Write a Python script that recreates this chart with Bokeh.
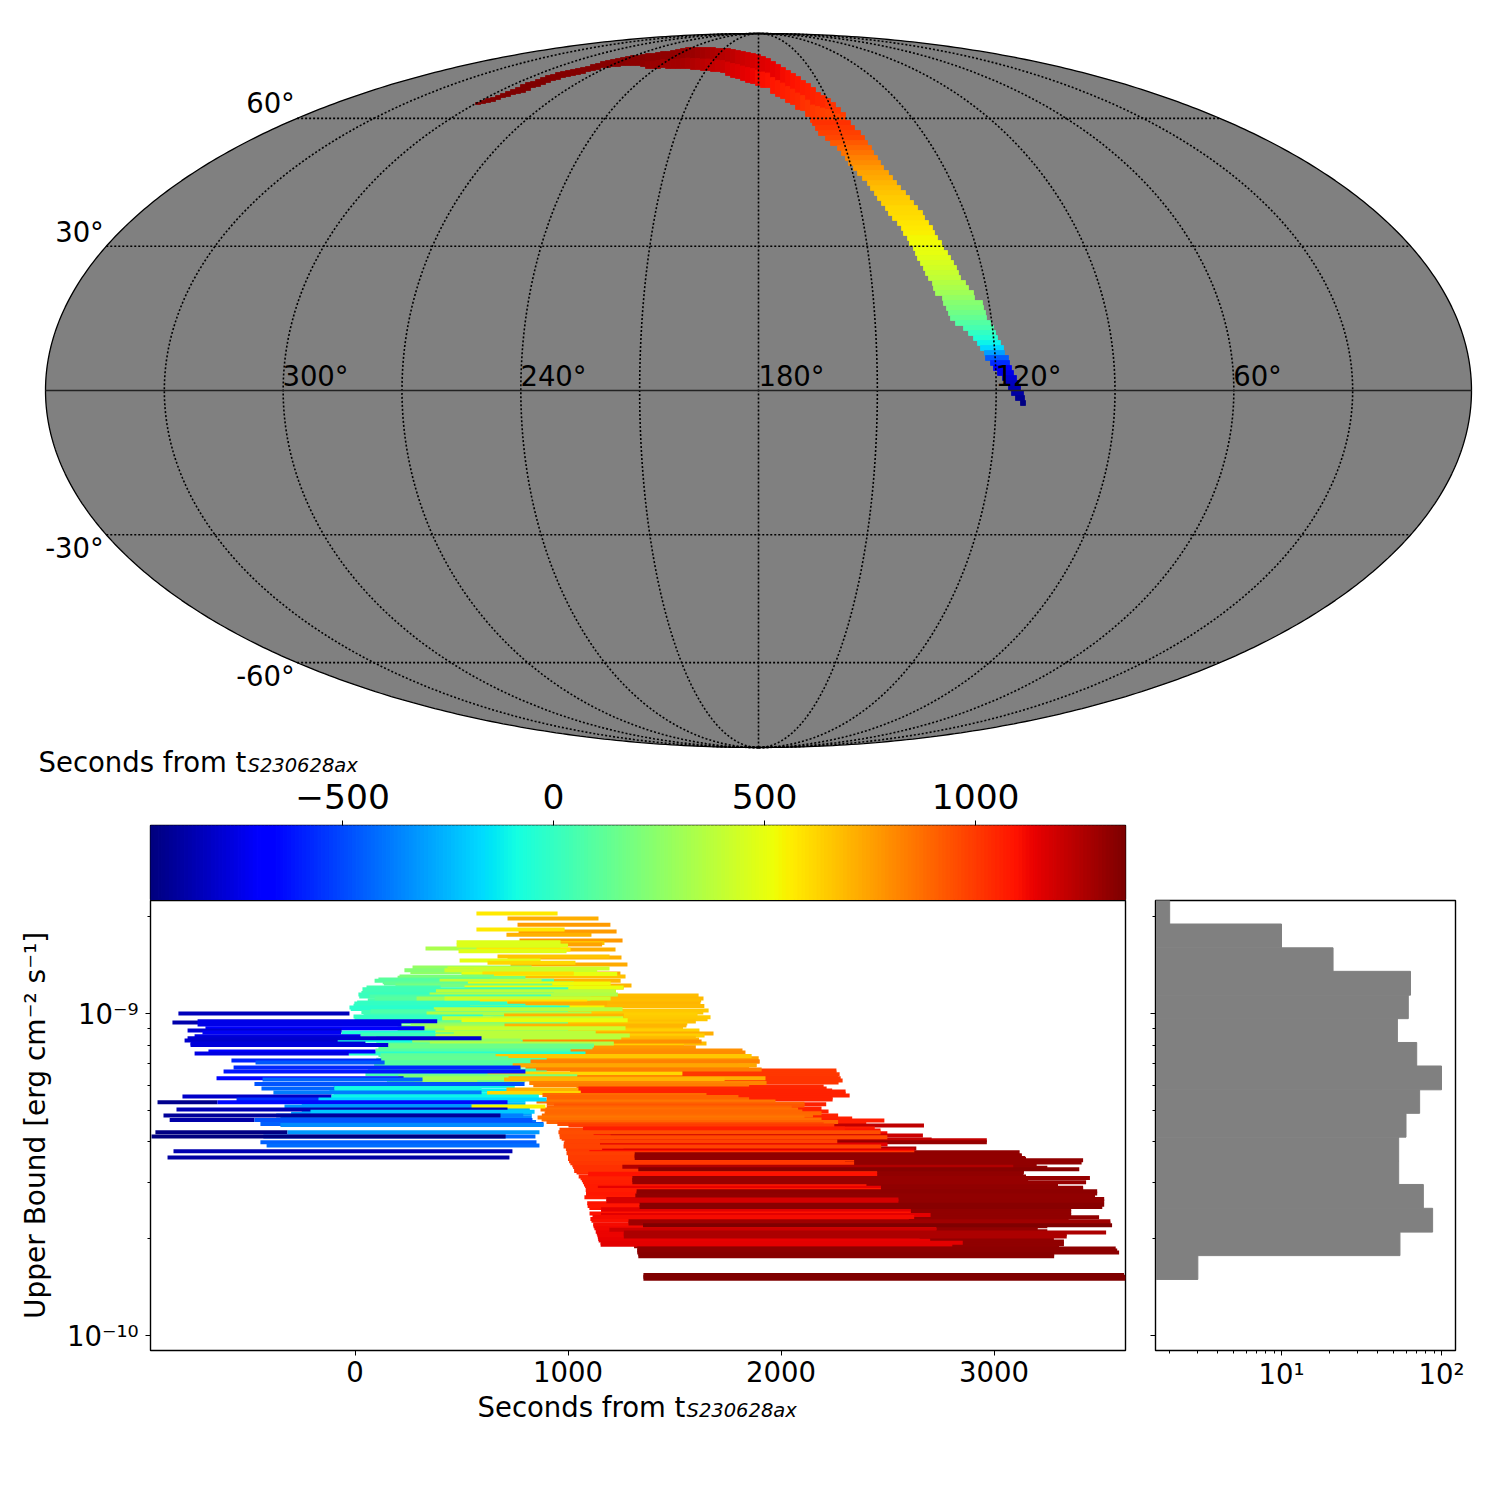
import numpy as np
from bokeh.embed import file_html
from bokeh.resources import INLINE
from bokeh.plotting import figure
from bokeh.layouts import column, row
from bokeh.models import (ColumnDataSource, LinearColorMapper, Range1d, FixedTicker)
from bokeh.transform import transform
from bokeh.core.properties import value

FONT = "DejaVu Sans"

# ---- colour scale -------------------------------------------------------
cbar_low, cbar_high = -955, 1355
cbar_ticks = {-500: "\u2212500", 0: "0", 500: "500", 1000: "1000"}

# ---- sky map: localisation region (map units, centre = 0)
# northern arc, columns: left edge, top, bottom, time at top, time at bottom
arc_cols = [(-283,288,286,1355,1355),(-278,290,287,1355,1355),(-273,292,288,1355,1355),(-268,293,289,1355,1355),(-263,295,291,1355,1355),
            (-258,297,293,1355,1355),(-253,299,294,1352,1352),(-248,301,296,1352,1352),(-243,303,297,1350,1350),(-238,306,298,1350,1350),
            (-233,308,300,1350,1350),(-228,309,303,1348,1348),(-223,311,304,1348,1348),(-218,313,306,1346,1346),(-213,315,308,1346,1346),
            (-208,316,310,1345,1345),(-203,318,311,1345,1345),(-198,319,313,1344,1344),(-193,320,314,1344,1344),(-188,321,315,1342,1342),
            (-183,322,316,1342,1342),(-178,323,317,1340,1340),(-173,324,319,1340,1340),(-168,326,320,1338,1338),(-163,327,321,1338,1338),
            (-158,329,323,1335,1335),(-153,330,323,1335,1335),(-148,331,324,1335,1330),(-143,332,324,1335,1330),(-138,333,325,1335,1330),
            (-133,334,325,1333,1325),(-128,335,325,1333,1325),(-123,335,325,1332,1320),(-118,336,324,1330,1315),(-113,337,322,1325,1305),
            (-108,337,322,1322,1300),(-103,338,322,1320,1295),(-98,339,323,1318,1290),(-93,339,322,1315,1285),(-88,340,322,1312,1280),
            (-83,341,322,1308,1275),(-78,342,322,1304,1270),(-73,343,322,1300,1262),(-68,343,321,1295,1255),(-63,343,321,1290,1245),
            (-58,343,320,1280,1235),(-53,343,320,1270,1225),(-48,343,319,1260,1215),(-43,342,319,1250,1205),(-38,342,318,1240,1195),
            (-33,342,315,1230,1180),(-28,341,313,1220,1170),(-23,340,312,1210,1160),(-18,339,310,1200,1150),(-13,338,308,1190,1140),
            (-8,337,307,1180,1130),(-3,336,305,1170,1120),(2,334,303,1160,1110),(7,332,303,1150,1100),(12,329,297,1140,1090),
            (17,326,294,1130,1080),(22,323,292,1120,1070),(27,320,288,1110,1060),(32,317,286,1100,1050),(37,314,281,1090,1040),
            (42,310,280,1080,1030),(47,307,274,1070,1020),(52,303,268,1060,1010),(57,298,270,1050,1000),(62,295,270,1040,990),
            (67,292,270,1030,985),(72,288,270,1020,980),(77,283,270,1010,975),(82,278,270,1000,970)]
# southward tail, rows: top, left, right, time
tail_rows = [(270,54,92,1030),(265,57,96,1010),(260,60,102,990),(255,67,106,970),(250,72,109,930),(245,79,113,890),(240,83,115,860),
             (235,87,119,830),(230,90,122,800),(225,95,125,770),(220,99,130,745),(215,104,134,725),(210,109,138,700),(205,112,142,685),
             (200,116,147,665),(195,119,151,650),(190,123,155,635),(185,127,159,620),(180,130,164,610),(175,134,166,600),(170,139,170,585),
             (165,143,174,570),(160,145,176,555),(155,149,179,540),(150,151,183,525),(145,155,185,510),(140,157,189,500),(135,159,192,480),
             (130,162,195,460),(125,165,198,440),(120,167,200,415),(115,170,202,390),(110,174,207,360),(105,175,210,330),(100,177,215,300),
             (95,184,216,270),(90,185,224,235),(85,188,225,205),(80,190,227,170),(75,192,228,130),(70,197,232,90),(65,205,235,50),
             (60,210,237,0),(55,215,239,-50),(50,219,242,-110),(45,222,245,-170),(40,226,246,-300),(35,227,250,-450),(30,232,251,-560),
             (25,235,253,-680),(20,239,255,-740),(15,244,258,-780),(10,247,260,-820),(5,250,262,-850),(0,253,265,-880),(-5,257,266,-910),
             (-10,262,267,-940)]

lat_labels = ["60\u00b0", "30\u00b0", "-30\u00b0", "-60\u00b0"]
lat_label_x = [-488, -679, -684, -493]
lat_label_y = [288, 159, -157, -285]
lon_labels = ["300\u00b0", "240\u00b0", "180\u00b0", "120\u00b0", "60\u00b0"]
lon_label_x = [-443, -205, 33, 270, 499]
lon_label_y = [15, 15, 15, 15, 15]
meridians = [-150, -120, -90, -60, -30, 0, 30, 60, 90, 120, 150]
parallels = [-60, -30, 30, 60]

# ---- histogram ----------------------------------------------------------
hist_edges = [-9.825,-9.751,-9.678,-9.604,-9.530,-9.457,-9.383,-9.309,-9.236,-9.162,-9.089,-9.015,-8.942,-8.868,-8.795,-8.721,-8.648]
hist_counts = [3,55,88,77,54,54,60,73,100,70,53,62,64,21,10,2]

# ---- upper limits: (log10 UL, t_start, t_stop); colour follows t_start --
fill_dark = [(-9.430,1310,3120),(-9.439,1310,3130),(-9.450,1310,3150),(-9.458,1310,3200),(-9.470,1310,3200),(-9.478,1310,3250),
             (-9.487,1310,3140),(-9.493,1310,3140),(-9.505,1310,3150),(-9.520,1310,3160),(-9.528,1310,3300),(-9.535,1310,3300),
             (-9.553,1310,3300),(-9.560,1310,3300),(-9.568,1310,3300),(-9.588,1310,3350),(-9.598,1310,3300),(-9.604,1310,3300),
             (-9.640,1310,3350),(-9.660,1310,3250),(-9.675,1310,3250),(-9.698,1310,3280),(-9.703,1310,3280),(-9.712,1310,3300)]
dark_under = [(-9.455,1310,3418),(-9.462,1310,3411),(-9.497,1310,3136),(-9.503,1310,3136),(-9.540,1310,3418),(-9.545,1310,3418),
              (-9.575,1310,3517),(-9.582,1310,3517),(-9.607,1310,3362),(-9.616,1310,3362),(-9.626,1310,3362),(-9.632,1310,3493),
              (-9.664,1310,3204),(-9.671,1310,3204),(-9.707,1310,3328),(-9.716,1310,3328),(-9.722,1310,3305)]
fill_red = [(-9.360,960,2300),(-9.375,960,2350),(-9.388,970,2300),(-9.403,980,2300),(-9.408,985,2320),(-9.420,990,2350),(-9.427,995,2400),
            (-9.440,1000,2250),(-9.458,1005,2300),(-9.470,1020,2200),(-9.482,1030,2350),(-9.493,1040,2400),(-9.505,1050,2300),(-9.517,1065,2350),
            (-9.523,1070,2400),(-9.530,1075,2400),(-9.535,1080,2400),(-9.553,1085,2400),(-9.558,1085,2400),(-9.564,1085,2450),(-9.588,1090,2500),
            (-9.592,1095,2500),(-9.603,1100,2550),(-9.637,1105,2600),(-9.643,1110,2550),(-9.654,1118,2600),(-9.660,1120,2650),(-9.677,1130,2550),
            (-9.682,1135,2550),(-9.694,1140,2600),(-9.699,1142,2650)]
red_under = [(-9.176,1010,2260),(-9.182,1010,2260),(-9.188,1010,2275),(-9.194,1010,2268),(-9.200,1020,2280),(-9.207,1020,2289),
             (-9.213,1020,2270),(-9.226,1040,2200),(-9.238,1050,2240),(-9.248,1060,2303),(-9.254,1060,2322),(-9.260,1060,2242),
             (-9.266,1060,2242),(-9.281,1060,2212),(-9.294,1060,2190),(-9.303,1060,2223),(-9.316,1060,2268),(-9.325,1060,2334),
             (-9.331,1070,2485),(-9.338,1070,2400),(-9.347,1228,2671),(-9.356,1070,2440),(-9.362,1100,2467),(-9.371,1120,2499),
             (-9.378,1200,2666),(-9.385,1150,2467),(-9.390,1217,2707),(-9.393,1217,2966),(-9.399,1302,2966),(-9.406,1150,2500),
             (-9.418,1260,2635),(-9.424,1160,2625),(-9.429,1100,2625)]
orange_under = [(-8.943,680,1613),(-8.952,690,1636),(-8.958,680,1625),(-8.968,700,1622),(-8.976,690,1640),(-8.990,660,1660),
                (-8.996,660,1635),(-9.002,640,1608),(-9.011,650,1669),(-9.017,660,1655),(-9.024,670,1600),(-9.030,660,1560),
                (-9.042,670,1540),(-9.052,640,1617),(-9.061,720,1683),(-9.067,640,1641),(-9.074,680,1600),(-9.080,700,1615),
                (-9.092,680,1650),(-9.098,640,1544),(-9.104,770,1600),(-9.114,790,1819),(-9.120,800,1833),(-9.125,800,1760),
                (-9.138,750,1895),(-9.148,824,1899),(-9.154,800,1800),(-9.160,740,1885),(-9.167,800,1850),(-9.173,840,1909)]
upper_orange = [(-8.704,716,1143),(-8.723,763,1199),(-8.744,768,1228),(-8.754,711,1110),(-8.772,772,1256),(-8.780,669,1171),
                (-8.785,750,1160),(-8.800,720,1223),(-8.825,716,1251),(-8.822,669,1195),(-8.847,730,1279),(-8.875,735,1246),
                (-8.884,678,1270),(-8.897,700,1247),(-8.912,700,1298),(-8.918,720,1261),(-8.930,680,1225)]
fill_upper = [(-8.870,260,900),(-8.888,200,800),(-8.902,130,900),(-8.930,40,700),(-8.935,30,900),(-8.946,20,800),(-8.958,60,950),(-8.965,10,850),
              (-8.975,0,950),(-8.985,-20,900),(-8.994,30,1000),(-9.003,40,1000),(-9.020,60,900),(-9.027,150,1000)]
upper_yellow = [(-8.688,570,951),(-8.738,570,984),(-8.778,477,965),(-8.797,331,965),(-8.788,477,1000),(-8.800,570,1012),
                (-8.806,486,993),(-8.834,491,871),(-8.841,622,1035),(-8.856,270,829),(-8.859,434,1195),(-8.865,232,558),
                (-8.865,420,1137),(-8.876,500,1231),(-8.875,598,1027),(-8.884,209,652),(-8.893,110,636),(-8.897,92,934),
                (-8.897,397,876),(-8.906,136,1027),(-8.906,530,1200),(-8.912,190,926),(-8.918,54,402),(-8.918,514,1261),
                (-8.924,35,1001),(-8.930,380,1225),(-8.940,16,933),(-8.940,350,1234),(-8.946,68,920),(-8.952,92,409),
                (-8.952,289,1106),(-8.952,420,1200),(-8.962,586,1090),(-8.968,716,1184),(-8.968,-3,714),(-8.975,-7,800),
                (-8.980,540,1171),(-8.980,-26,1007),(-8.986,370,1256),(-8.992,73,378),(-8.999,336,1110),(-9.005,700,1262),
                (-9.008,-7,600),(-9.014,-2,409),(-9.014,409,1259),(-9.020,500,1280)]
fill_mid = [(-9.041,200,950),(-9.050,200,1000),(-9.070,100,1000),(-9.078,120,1000),(-9.090,100,950),(-9.108,110,1000),(-9.118,100,1000),
            (-9.128,110,900),(-9.134,120,880),(-9.143,100,900),(-9.150,90,850),(-9.160,90,800),(-9.170,80,780),(-9.176,60,850),(-9.182,60,900),
            (-9.206,150,800),(-9.225,-100,750),(-9.238,-120,760),(-9.250,-100,800),(-9.262,-100,780),(-9.270,-200,800),(-9.282,-250,800),
            (-9.292,-300,820),(-9.300,-250,820),(-9.310,-300,830),(-9.322,-350,830),(-9.336,-400,850)]
mid_green = [(-9.033,261,702),(-9.039,326,700),(-9.036,702,1556),(-9.045,420,1270),(-9.058,-63,378),(-9.058,378,1130),
             (-9.064,26,464),(-9.067,378,1290),(-9.075,380,1250),(-9.083,-82,269),(-9.083,269,780),(-9.086,787,1627),
             (-9.092,351,1215),(-9.098,156,1122),(-9.104,160,1115),(-9.114,96,1012),(-9.123,-29,1082),(-9.129,120,660),
             (-9.131,660,1862),(-9.138,130,720),(-9.155,92,652),(-9.148,824,1899),(-9.160,740,1885),(-9.188,49,1043),
             (-9.185,622,1537),(-9.194,204,1043),(-9.200,317,722),(-9.200,721,1927),(-9.204,700,1735),(-9.212,280,574)]
mid_orange = [(-9.215,818,1932),(-9.222,837,1850),(-9.235,711,1900),(-9.246,620,1509),(-9.232,1049,2214),(-9.241,1060,2303),
              (-9.252,880,1650),(-9.258,900,1800),(-9.265,900,1850),(-9.272,852,1974),(-9.279,900,2110),(-9.285,934,2110),(-9.291,900,2050),
              (-9.297,871,2080),(-9.303,894,2100),(-9.309,890,2190),(-9.316,877,2150),(-9.322,857,2110),(-9.328,876,2190),(-9.336,899,2268),
              (-9.342,950,2200),(-9.347,1002,2250),(-9.356,1073,2300)]
late_red = [(-9.368,955,2467),(-9.383,961,2499),(-9.396,984,2264),(-9.412,979,2470),(-9.433,993,2625),(-9.451,1000,2343),
            (-9.464,1011,2343),(-9.476,1024,2100),(-9.488,1029,2451),(-9.497,1095,2451),(-9.503,1095,2451),(-9.511,1059,2300),
            (-9.540,1140,2469),(-9.547,1083,2469),(-9.570,1077,2300),(-9.575,1180,2551),(-9.582,1180,2551),(-9.597,1092,2551),
            (-9.607,1155,2609),(-9.613,1155,2609),(-9.620,1101,2609),(-9.625,1155,2702),(-9.631,1115,2625),(-9.666,1124,2729),
            (-9.671,1194,2729),(-9.688,1138,2500),(-9.704,1144,2700),(-9.711,1153,2853),(-9.717,1153,2804)]
late_dark = [(-9.436,1313,3109),(-9.442,1313,3130),(-9.448,1313,3145),(-9.475,1255,3090),(-9.483,1330,3400),(-9.510,1302,3450),
             (-9.516,1302,3150),(-9.523,1302,3432),(-9.551,1322,3484),(-9.558,1322,3484),(-9.564,1316,3474),(-9.593,1336,3517),
             (-9.600,1336,3508),(-9.644,1284,3546),(-9.651,1284,3546),(-9.657,1352,3554),(-9.679,1262,3526),(-9.685,1262,3341),
             (-9.692,1262,3341),(-9.729,1325,3571),(-9.735,1325,3578),(-9.741,1325,3587),(-9.747,1330,3282),(-9.753,1330,3282),
             (-9.811,1354,3610),(-9.817,1354,3617),(-9.823,1354,3617)]
early_blue = [(-8.999,-829,-26),(-9.027,-857,7),(-9.023,-739,386),(-9.033,-739,218),(-9.045,-702,326),(-9.052,-786,-63),
              (-9.058,-716,-65),(-9.070,-753,26),(-9.076,-786,594),(-9.083,-800,-81),(-9.092,-772,49),(-9.097,-772,156),
              (-9.117,-688,96),(-9.123,-753,-29),(-9.145,-580,123),(-9.151,-467,139),(-9.167,-570,777),(-9.179,-617,800),
              (-9.200,-650,228),(-9.204,-434,317),(-9.218,-472,796),(-9.232,-439,-96),(-9.232,-96,594),(-9.244,-383,594),
              (-9.257,-810,-110),(-9.257,-110,863),(-9.266,-556,-170),(-9.266,-171,899),(-9.275,-927,-646),(-9.275,-646,716),
              (-9.288,-331,547),(-9.288,547,894),(-9.297,-838,716),(-9.304,-209,843),(-9.316,-370,790),(-9.316,-899,683),
              (-9.330,-870,-472),(-9.330,-472,833),(-9.342,-444,885),(-9.345,-350,885),(-9.368,-937,-317),(-9.368,-317,866),
              (-9.381,-430,847),(-9.381,-955,707),(-9.399,-444,852),(-9.409,-415,866),(-9.427,-852,739),(-9.446,-880,725)]

all_bars = (fill_dark + dark_under + fill_red + red_under + orange_under + upper_orange + fill_upper + upper_yellow
            + fill_mid + mid_green + mid_orange + late_red + late_dark + early_blue)

# ---- palette: the jet map ----------------------------------------------
f = np.linspace(0, 1, 256)
r = np.interp(f, [0, .35, .66, .89, 1], [0, 0, 1, 1, .5])
g = np.interp(f, [0, .125, .375, .64, .91, 1], [0, 0, 1, 1, 0, 0])
b = np.interp(f, [0, .11, .34, .65, 1], [.5, 1, 1, 0, 0])
jet = ["#%02x%02x%02x" % (int(a*255), int(c*255), int(d*255)) for a, c, d in zip(r, g, b)]
mapper = LinearColorMapper(palette=jet, low=cbar_low, high=cbar_high)

A, B = 713.0, 357.0

def moll(lon_off, lat):
    lat = np.radians(np.asarray(lat, dtype=float))
    th = lat.copy()
    for _ in range(60):
        d = 2*th + np.sin(2*th) - np.pi*np.sin(lat)
        dn = 2 + 2*np.cos(2*th)
        th = np.where(dn > 1e-6, th - d/np.where(dn > 1e-6, dn, 1), th)
    return A*np.asarray(lon_off, dtype=float)/180*np.cos(th), B*np.sin(th)

def draw_caption(fig, x_main, x_sub, y_main, y_sub):
    fig.text([x_main], [y_main], text=["Seconds from t"], text_font=value(FONT), text_font_size="27.5px",
             text_color="black", text_baseline="alphabetic")
    fig.text([x_sub], [y_sub], text=["S230628ax"], text_font=value(FONT), text_font_size="19.5px",
             text_font_style="italic", text_color="black", text_baseline="alphabetic")

# ---- map figure (its frame also holds the colour bar's caption) ---------
m = figure(width=1484, height=778, output_backend="svg", toolbar_location=None, frame_align=False,
           x_range=Range1d(-758, 715), y_range=Range1d(-388, 359),
           min_border_left=0, min_border_right=11, min_border_top=31, min_border_bottom=0)
m.axis.visible = False
m.grid.visible = False
m.outline_line_color = None
phi = np.linspace(0, 2*np.pi, 721)
m.patch(A*np.cos(phi), B*np.sin(phi), fill_color="#808080", line_color="black", line_width=1.3)

# each arc column has an upper and a lower half, each with its own time
cl, cr, ct, cb, cv = [], [], [], [], []
for x0, top, bot, t_top, t_bot in arc_cols:
    mid = (top + bot)/2
    cl += [x0, x0]; cr += [x0+5, x0+5]; ct += [top, mid]; cb += [mid, bot]; cv += [t_top, t_bot]
for top, xl, xr, t in tail_rows:
    cl.append(xl); cr.append(xr); ct.append(top); cb.append(top-5); cv.append(t)
cells = ColumnDataSource(dict(l=cl, r=cr, t=ct, b=cb, v=cv))
m.quad(left="l", right="r", top="t", bottom="b", source=cells, fill_color=transform("v", mapper),
       line_color=transform("v", mapper), line_width=0.8)

lat_line = np.linspace(-90, 90, 361)
for lo in meridians:
    x_, y_ = moll(np.full_like(lat_line, lo), lat_line)
    m.line(x_, y_, line_color="black", line_width=1.6, line_dash="2 2")
lon_line = np.linspace(-180, 180, 361)
for la in parallels:
    x_, y_ = moll(lon_line, np.full_like(lon_line, la))
    m.line(x_, y_, line_color="black", line_width=1.6, line_dash="2 2")
x_, y_ = moll(lon_line, np.zeros_like(lon_line))
m.line(x_, y_, line_color="#222222", line_width=1.4)

for tx, lx, ly in [(lat_labels, lat_label_x, lat_label_y), (lon_labels, lon_label_x, lon_label_y)]:
    m.text(lx, ly, text=tx, text_font=value(FONT), text_font_size="27.5px", text_color="black",
           text_align="center", text_baseline="middle")
draw_caption(m, -720, -511, -371, -375)

# ---- strip that carries the x-axis caption ------------------------------
cap_bottom = figure(width=1140, height=40, output_backend="svg", toolbar_location=None, frame_align=False,
                    x_range=Range1d(0, 1140), y_range=Range1d(40, 0),
                    min_border_left=0, min_border_right=0, min_border_top=0, min_border_bottom=0)
cap_bottom.axis.visible = False
cap_bottom.grid.visible = False
cap_bottom.outline_line_color = None
draw_caption(cap_bottom, 477, 686, 14, 18)

# ---- colour bar ---------------------------------------------------------
edges = np.linspace(cbar_low, cbar_high, 257)
c = figure(width=1140, height=122, output_backend="svg", toolbar_location=None, frame_align=False,
           x_range=Range1d(cbar_low, cbar_high), y_range=Range1d(0, 1), x_axis_location="above",
           min_border_left=150, min_border_right=15, min_border_top=47, min_border_bottom=0)
c.quad(left=edges[:-1], right=edges[1:], bottom=0, top=1, fill_color=jet, line_color=jet, line_width=1.2)
c.yaxis.visible = False
c.grid.visible = False
c.outline_line_color = "black"
c.outline_line_width = 1.4
c.xaxis.ticker = FixedTicker(ticks=list(cbar_ticks))
c.xaxis.major_label_overrides = cbar_ticks
c.xaxis.major_label_text_font = FONT
c.xaxis.major_label_text_font_size = "34.5px"
c.xaxis.major_label_text_color = "black"
c.xaxis.major_tick_in = 0
c.xaxis.major_tick_out = 5
c.xaxis.minor_tick_line_color = None
c.xaxis.axis_line_color = None
c.xaxis.major_label_standoff = 12

# ---- main panel ---------------------------------------------------------
y_lo, y_hi = 10**-10.0457, 10**-8.648
yminor = [9e-11,2e-10,3e-10,4e-10,5e-10,6e-10,7e-10,8e-10,9e-10,2e-9]
p = figure(width=1140, height=492, output_backend="svg", toolbar_location=None, y_axis_type="log", frame_align=False,
           x_range=Range1d(-960, 3617), y_range=Range1d(y_lo, y_hi),
           min_border_left=150, min_border_right=15, min_border_top=0, min_border_bottom=42)
bars = ColumnDataSource(dict(
    y=[10**a for a, _, _ in all_bars],
    t0=[s for _, s, _ in all_bars],
    t1=[e for _, _, e in all_bars]))
p.segment("t0", "y", "t1", "y", source=bars, line_width=4, line_cap="butt", line_color=transform("t0", mapper))
p.grid.visible = False
p.outline_line_color = "black"
p.outline_line_width = 1.4
p.xaxis.ticker = FixedTicker(ticks=[0, 1000, 2000, 3000])
p.yaxis.ticker = FixedTicker(ticks=[1e-10, 1e-9], minor_ticks=yminor)
p.yaxis.major_label_overrides = {1e-10: "10\u207b\u00b9\u2070", 1e-9: "10\u207b\u2079"}
p.yaxis.axis_label = "Upper Bound [erg cm\u207b\u00b2 s\u207b\u00b9]"
p.yaxis.axis_label_text_font = FONT
p.yaxis.axis_label_text_font_size = "28px"
p.yaxis.axis_label_text_font_style = "normal"
p.yaxis.axis_label_text_color = "black"
p.yaxis.axis_label_standoff = 12
for ax in (p.xaxis, p.yaxis):
    ax.major_label_text_font = FONT
    ax.major_label_text_font_size = "27.5px"
    ax.major_label_text_color = "black"
    ax.major_tick_in = 0
    ax.major_tick_out = 5
    ax.minor_tick_in = 0
    ax.minor_tick_out = 3
p.xaxis.major_label_standoff = 5
p.yaxis.major_label_standoff = 7
p.xaxis.minor_tick_line_color = None

# ---- histogram panel ----------------------------------------------------
h = figure(width=344, height=624, output_backend="svg", toolbar_location=None, frame_align=False,
           x_axis_type="log", y_axis_type="log",
           x_range=Range1d(10**0.2125, 10**2.0875), y_range=Range1d(y_lo, y_hi),
           min_border_left=15, min_border_right=29, min_border_top=122, min_border_bottom=52)
h.quad(left=10**0.2125, right=hist_counts,
       bottom=[10**a for a in hist_edges[:-1]], top=[10**a for a in hist_edges[1:]],
       fill_color="#808080", line_color="#808080", line_width=1)
h.grid.visible = False
h.outline_line_color = "black"
h.outline_line_width = 1.4
h.xaxis.ticker = FixedTicker(ticks=[10, 100], minor_ticks=[2,3,4,5,6,7,8,9,20,30,40,50,60,70,80,90])
h.xaxis.major_label_overrides = {10: "10\u00b9", 100: "10\u00b2"}
h.yaxis.ticker = FixedTicker(ticks=[1e-10, 1e-9], minor_ticks=yminor)
h.yaxis.major_label_text_font_size = "1px"
h.yaxis.major_label_text_color = None
for ax in (h.xaxis, h.yaxis):
    ax.major_label_text_font = FONT
    ax.major_tick_in = 0
    ax.major_tick_out = 5
    ax.minor_tick_in = 0
    ax.minor_tick_out = 3
h.xaxis.major_label_text_color = "black"
h.xaxis.major_label_text_font_size = "27.5px"
h.xaxis.major_label_standoff = 2

page = column(m, row(column(c, p, cap_bottom, spacing=0), h, spacing=0), spacing=0)
open("out.html", "w").write(file_html(page, INLINE))
